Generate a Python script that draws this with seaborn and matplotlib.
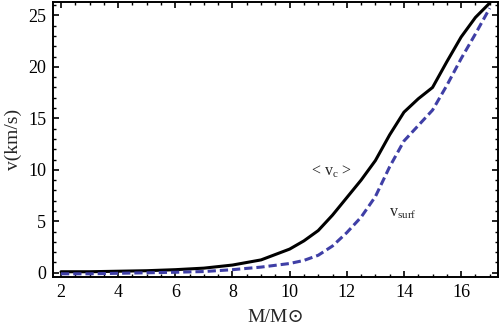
import numpy as np
import pandas as pd
import matplotlib
matplotlib.use('Agg')
import matplotlib.pyplot as plt
import seaborn as sns
from matplotlib.ticker import MultipleLocator

# values
mass = [2, 3, 4, 5, 6, 7, 8, 9, 10, 10.5, 11, 11.5, 12, 12.5, 13, 13.5, 14, 14.5, 15, 15.5, 16, 16.5, 17]
v_core = [0.1, 0.1, 0.15, 0.2, 0.3, 0.45, 0.75, 1.25, 2.3, 3.1, 4.1, 5.6, 7.3, 9.0, 10.9, 13.4, 15.6, 16.9, 18.0, 20.5, 22.9, 24.8, 26.2]
v_surf = [-0.1, -0.1, -0.05, 0.0, 0.05, 0.12, 0.3, 0.55, 0.9, 1.2, 1.7, 2.6, 3.9, 5.4, 7.4, 10.3, 12.8, 14.3, 15.8, 18.2, 20.8, 23.2, 25.7]

sns.set_style('ticks')
plt.rcParams['font.family'] = ['Liberation Serif', 'DejaVu Serif', 'DejaVu Sans']

df = pd.DataFrame({'M': mass, 'vc': v_core, 'vs': v_surf})

fig = plt.figure(figsize=(5, 3.34), dpi=100)
ax = fig.add_axes([0.106, 0.171, 0.89, 0.823])

sns.lineplot(data=df, x='M', y='vc', ax=ax, color='black', linewidth=2.2)
sns.lineplot(data=df, x='M', y='vs', ax=ax, color='#3f3fa6', linewidth=2.2,
             linestyle=(0, (2.7, 1.3)))

ax.set_xlim(1.72, 17.29)
ax.set_ylim(-0.4, 26.3)
ax.xaxis.set_major_locator(MultipleLocator(2))
ax.xaxis.set_minor_locator(MultipleLocator(0.5))
ax.yaxis.set_major_locator(MultipleLocator(5))
ax.yaxis.set_minor_locator(MultipleLocator(1))
ax.tick_params(which='both', direction='in', top=True, right=True, colors='black',
               labelsize=13)
ax.tick_params(which='major', length=4, width=1.2, pad=5)
ax.tick_params(which='minor', length=2.5, width=1.0)
for s in ax.spines.values():
    s.set_linewidth(1.4)
    s.set_color('black')

ax.set_xlabel('M/M\u2299', fontsize=14, labelpad=6)
ax.set_ylabel('v(km/s)', fontsize=14, labelpad=4)

ax.text(11.45, 9.8, r'< v$_\mathregular{c}$ >', fontsize=11.5, ha='center', va='center')
ax.text(13.95, 5.8, r'v$_\mathregular{surf}$', fontsize=11.5, ha='center', va='center')

fig.savefig('out.png', dpi=100)
